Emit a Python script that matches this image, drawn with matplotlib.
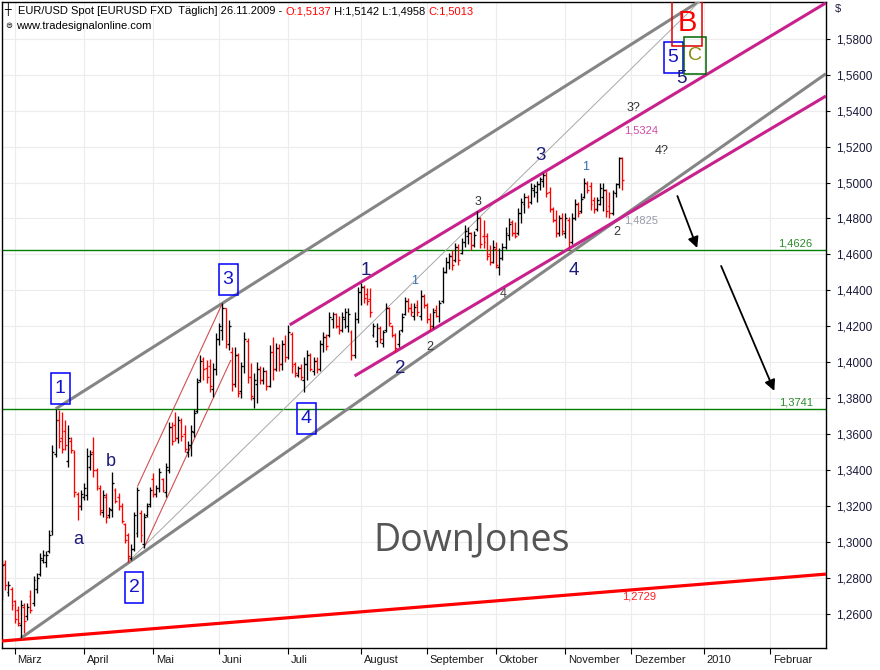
import matplotlib
matplotlib.use("Agg")
import matplotlib.pyplot as plt
import matplotlib.transforms as mtransforms
from matplotlib.patches import Rectangle
import numpy as np
import pandas as pd

plt.rcParams['font.family'] = ['Liberation Sans', 'DejaVu Sans']

# ---------------- data ----------------
start_date = '2009-02-24'
end_date = '2009-11-26'
axis_end_date = '2010-02-26'

opens = [
    1.2700, 1.2880, 1.2720, 1.2740, 1.2670, 1.2620, 1.2540, 1.2640, 1.2590, 1.2700,
    1.2660, 1.2740, 1.2820, 1.2900, 1.2890, 1.2950, 1.3060, 1.3490, 1.3680, 1.3580,
    1.3620, 1.3450, 1.3560, 1.3500, 1.3270, 1.3200, 1.3250, 1.3260, 1.3420, 1.3500,
    1.3400, 1.3300, 1.3170, 1.3250, 1.3150, 1.3180, 1.3290, 1.3250, 1.3200, 1.3100,
    1.3040, 1.2910, 1.2960, 1.3050, 1.3160, 1.2990, 1.3150, 1.3210, 1.3350, 1.3270,
    1.3300, 1.3350, 1.3280, 1.3400, 1.3640, 1.3650, 1.3580, 1.3670, 1.3600, 1.3500,
    1.3540, 1.3610, 1.3730, 1.3900, 1.4020, 1.3970, 1.3980, 1.3850, 1.3960, 1.4130,
    1.4180, 1.4300, 1.4100, 1.4060, 1.3880, 1.4040, 1.3840, 1.3980, 1.4120, 1.3920,
    1.3800, 1.3880, 1.3960, 1.3900, 1.3950, 1.3870, 1.4060, 1.3960, 1.4080, 1.3990,
    1.4100, 1.4030, 1.4160, 1.3990, 1.3930, 1.3970, 1.3900, 1.3990, 1.4040, 1.3950,
    1.4010, 1.3960, 1.4100, 1.4140, 1.4150, 1.4240, 1.4270, 1.4200, 1.4180, 1.4240,
    1.4200, 1.4170, 1.4040, 1.4240, 1.4390, 1.4420, 1.4380, 1.4350, 1.4150, 1.4120,
    1.4190, 1.4110, 1.4180, 1.4300, 1.4200, 1.4150, 1.4100, 1.4180, 1.4270, 1.4340,
    1.4300, 1.4260, 1.4320, 1.4260, 1.4370, 1.4320, 1.4240, 1.4200, 1.4290, 1.4260,
    1.4340, 1.4500, 1.4560, 1.4590, 1.4570, 1.4640, 1.4610, 1.4670, 1.4700, 1.4720,
    1.4650, 1.4740, 1.4800, 1.4700, 1.4700, 1.4600, 1.4560, 1.4630, 1.4530, 1.4580,
    1.4640, 1.4710, 1.4780, 1.4720, 1.4720, 1.4830, 1.4880, 1.4920, 1.4890, 1.4960,
    1.4950, 1.4990, 1.5010, 1.5040, 1.4950, 1.4850, 1.4790, 1.4720, 1.4800, 1.4720,
    1.4790, 1.4670, 1.4800, 1.4880, 1.4840, 1.4920, 1.4990, 1.4980, 1.4900, 1.4850,
    1.4880, 1.4920, 1.4960, 1.4870, 1.4830, 1.4940, 1.4990, 1.5137,
]
highs = [
    1.2901, 1.2901, 1.2781, 1.2753, 1.2679, 1.2642, 1.2679, 1.2660, 1.2660, 1.2734,
    1.2809, 1.2827, 1.2938, 1.2957, 1.2948, 1.3068, 1.3540, 1.3741, 1.3735, 1.3726,
    1.3679, 1.3652, 1.3587, 1.3510, 1.3280, 1.3290, 1.3327, 1.3522, 1.3513, 1.3587,
    1.3411, 1.3318, 1.3290, 1.3272, 1.3198, 1.3392, 1.3300, 1.3272, 1.3216, 1.3105,
    1.3049, 1.2990, 1.3170, 1.3309, 1.3179, 1.3161, 1.3216, 1.3309, 1.3383, 1.3318,
    1.3411, 1.3355, 1.3439, 1.3670, 1.3670, 1.3725, 1.3700, 1.3690, 1.3650, 1.3560,
    1.3650, 1.3740, 1.3910, 1.4040, 1.4030, 1.4013, 1.4020, 1.3994, 1.4162, 1.4218,
    1.4328, 1.4301, 1.4235, 1.4085, 1.4085, 1.4050, 1.4000, 1.4168, 1.4135, 1.3996,
    1.3940, 1.4000, 1.3980, 1.3976, 1.3957, 1.4096, 1.4140, 1.4110, 1.4100, 1.4124,
    1.4150, 1.4207, 1.4168, 1.4000, 1.3980, 1.3990, 1.4030, 1.4068, 1.4050, 1.4030,
    1.4030, 1.4124, 1.4168, 1.4160, 1.4280, 1.4280, 1.4275, 1.4260, 1.4280, 1.4300,
    1.4300, 1.4180, 1.4280, 1.4420, 1.4442, 1.4430, 1.4415, 1.4415, 1.4218, 1.4218,
    1.4200, 1.4180, 1.4330, 1.4310, 1.4210, 1.4163, 1.4180, 1.4273, 1.4365, 1.4360,
    1.4330, 1.4330, 1.4345, 1.4400, 1.4380, 1.4330, 1.4273, 1.4300, 1.4320, 1.4345,
    1.4530, 1.4586, 1.4610, 1.4625, 1.4663, 1.4660, 1.4690, 1.4763, 1.4750, 1.4725,
    1.4730, 1.4843, 1.4808, 1.4791, 1.4720, 1.4652, 1.4680, 1.4669, 1.4636, 1.4663,
    1.4752, 1.4802, 1.4790, 1.4780, 1.4858, 1.4913, 1.4940, 1.4930, 1.4997, 1.4990,
    1.5010, 1.5030, 1.5052, 1.5060, 1.4975, 1.4864, 1.4847, 1.4820, 1.4830, 1.4830,
    1.4808, 1.4830, 1.4910, 1.4890, 1.4940, 1.5025, 1.5010, 1.5003, 1.4920, 1.4920,
    1.4997, 1.4997, 1.4965, 1.4950, 1.4960, 1.5000, 1.5144, 1.5142,
]
lows = [
    1.2679, 1.2734, 1.2700, 1.2623, 1.2549, 1.2531, 1.2466, 1.2494, 1.2568, 1.2605,
    1.2642, 1.2716, 1.2809, 1.2883, 1.2864, 1.2938, 1.3040, 1.3476, 1.3522, 1.3494,
    1.3513, 1.3420, 1.3494, 1.3250, 1.3124, 1.3179, 1.3235, 1.3235, 1.3401, 1.3364,
    1.3290, 1.3151, 1.3142, 1.3105, 1.3133, 1.3142, 1.3216, 1.3179, 1.3105, 1.2994,
    1.2890, 1.2900, 1.2950, 1.3030, 1.3003, 1.2966, 1.3142, 1.3198, 1.3253, 1.3253,
    1.3281, 1.3281, 1.3253, 1.3383, 1.3540, 1.3560, 1.3550, 1.3560, 1.3500, 1.3475,
    1.3480, 1.3586, 1.3720, 1.3890, 1.3900, 1.3885, 1.3837, 1.3805, 1.3930, 1.4097,
    1.4124, 1.4080, 1.4068, 1.3840, 1.3862, 1.3806, 1.3800, 1.3940, 1.3885, 1.3790,
    1.3745, 1.3775, 1.3880, 1.3880, 1.3846, 1.3860, 1.3900, 1.3950, 1.3950, 1.3957,
    1.4000, 1.4020, 1.3940, 1.3920, 1.3920, 1.3900, 1.3835, 1.3900, 1.3950, 1.3930,
    1.3940, 1.3950, 1.4057, 1.4070, 1.4140, 1.4190, 1.4190, 1.4160, 1.4170, 1.4190,
    1.4170, 1.4013, 1.4025, 1.4220, 1.4320, 1.4330, 1.4320, 1.4253, 1.4140, 1.4085,
    1.4110, 1.4085, 1.4170, 1.4200, 1.4140, 1.4057, 1.4085, 1.4170, 1.4265, 1.4280,
    1.4260, 1.4235, 1.4260, 1.4235, 1.4300, 1.4220, 1.4180, 1.4190, 1.4250, 1.4225,
    1.4330, 1.4497, 1.4517, 1.4514, 1.4560, 1.4540, 1.4600, 1.4640, 1.4660, 1.4625,
    1.4640, 1.4730, 1.4635, 1.4636, 1.4569, 1.4540, 1.4550, 1.4524, 1.4486, 1.4570,
    1.4630, 1.4680, 1.4700, 1.4690, 1.4710, 1.4775, 1.4830, 1.4860, 1.4880, 1.4920,
    1.4890, 1.4958, 1.4975, 1.4919, 1.4836, 1.4780, 1.4697, 1.4700, 1.4710, 1.4690,
    1.4641, 1.4660, 1.4790, 1.4810, 1.4830, 1.4915, 1.4940, 1.4847, 1.4830, 1.4840,
    1.4875, 1.4840, 1.4810, 1.4800, 1.4820, 1.4920, 1.4970, 1.4958,
]
closes = [
    1.2870, 1.2760, 1.2760, 1.2650, 1.2570, 1.2550, 1.2650, 1.2560, 1.2640, 1.2620,
    1.2790, 1.2800, 1.2910, 1.2930, 1.2930, 1.3040, 1.3500, 1.3680, 1.3560, 1.3520,
    1.3540, 1.3580, 1.3510, 1.3280, 1.3200, 1.3270, 1.3300, 1.3480, 1.3490, 1.3400,
    1.3310, 1.3180, 1.3260, 1.3140, 1.3185, 1.3330, 1.3230, 1.3200, 1.3120, 1.3010,
    1.2920, 1.2960, 1.3150, 1.3290, 1.3040, 1.3140, 1.3200, 1.3290, 1.3270, 1.3300,
    1.3390, 1.3290, 1.3420, 1.3640, 1.3560, 1.3580, 1.3680, 1.3590, 1.3520, 1.3540,
    1.3620, 1.3720, 1.3890, 1.4010, 1.3960, 1.3920, 1.3870, 1.3960, 1.4130, 1.4200,
    1.4300, 1.4120, 1.4200, 1.3880, 1.4040, 1.3830, 1.3980, 1.4130, 1.3920, 1.3810,
    1.3900, 1.3960, 1.3900, 1.3950, 1.3870, 1.4060, 1.3960, 1.4080, 1.3990, 1.4100,
    1.4030, 1.4170, 1.3980, 1.3940, 1.3970, 1.3920, 1.3990, 1.4040, 1.3960, 1.4010,
    1.3960, 1.4100, 1.4140, 1.4090, 1.4250, 1.4270, 1.4200, 1.4180, 1.4250, 1.4280,
    1.4270, 1.4040, 1.4240, 1.4390, 1.4420, 1.4360, 1.4340, 1.4280, 1.4200, 1.4190,
    1.4130, 1.4170, 1.4300, 1.4220, 1.4150, 1.4080, 1.4160, 1.4250, 1.4340, 1.4300,
    1.4280, 1.4310, 1.4280, 1.4370, 1.4320, 1.4240, 1.4200, 1.4280, 1.4260, 1.4330,
    1.4500, 1.4560, 1.4590, 1.4540, 1.4640, 1.4570, 1.4670, 1.4730, 1.4720, 1.4650,
    1.4710, 1.4800, 1.4660, 1.4670, 1.4590, 1.4560, 1.4640, 1.4540, 1.4580, 1.4640,
    1.4720, 1.4770, 1.4720, 1.4700, 1.4830, 1.4890, 1.4920, 1.4870, 1.4970, 1.4980,
    1.4990, 1.5020, 1.5040, 1.4940, 1.4850, 1.4790, 1.4720, 1.4800, 1.4730, 1.4800,
    1.4670, 1.4800, 1.4880, 1.4830, 1.4910, 1.5000, 1.4960, 1.4880, 1.4850, 1.4900,
    1.4970, 1.4960, 1.4840, 1.4830, 1.4950, 1.4990, 1.5137, 1.5013,
]

price_ticks = [1.26, 1.28, 1.30, 1.32, 1.34, 1.36, 1.38, 1.40, 1.42, 1.44,
               1.46, 1.48, 1.50, 1.52, 1.54, 1.56, 1.58]
price_tick_labels = ['1,2600', '1,2800', '1,3000', '1,3200', '1,3400', '1,3600',
                     '1,3800', '1,4000', '1,4200', '1,4400', '1,4600', '1,4800',
                     '1,5000', '1,5200', '1,5400', '1,5600', '1,5800']
month_labels = ['März', 'April', 'Mai', 'Juni', 'Juli', 'August', 'September',
                'Oktober', 'November', 'Dezember', '2010', 'Februar']

level_values = [1.4626, 1.3741]
level_labels = ['1,4626', '1,3741']

# trend lines: (bar index, price) anchor pairs
grey_upper = [(17, 1.3741), (224.0, 1.6035)]
grey_lower = [(6, 1.2466), (261.8, 1.5605)]
grey_thin = [(40, 1.2890), (222.0, 1.6012)]
red_thin_upper = [(43, 1.3309), (70, 1.4328)]
red_thin_lower = [(45, 1.2966), (72.7, 1.4013)]
magenta_upper = [(91.4, 1.4208), (261.8, 1.5999)]
magenta_lower = [(112.0, 1.3924), (261.8, 1.5481)]
red_support = [(-0.1, 1.2450), (261.8, 1.2822)]

# ---------------- figure ----------------
fig = plt.figure(figsize=(8.8, 6.7), dpi=100)
fig.patch.set_facecolor('white')
ax = fig.add_axes([2 / 880, 22 / 670, 824 / 880, 646 / 670])
XMIN, XMAX = -0.036, 261.83
YMIN, YMAX = 1.2411, 1.6004
ax.set_xlim(XMIN, XMAX)
ax.set_ylim(YMIN, YMAX)
PXI = 824 / (XMAX - XMIN)
PXP = 646 / (YMAX - YMIN)

days = pd.bdate_range(start_date, end_date)
x = np.arange(len(days))
o = np.array(opens); h = np.array(highs); l = np.array(lows); c = np.array(closes)

cal = pd.bdate_range(start_date, axis_end_date)
month_pos = [i for i in range(1, len(cal)) if cal[i].month != cal[i - 1].month]

# grid
for p in price_ticks:
    ax.axhline(p, color='#ececec', lw=0.8, zorder=0)
for m in month_pos:
    ax.axvline(m, color='#ececec', lw=0.8, zorder=0)

# horizontal levels
for v, lab in zip(level_values, level_labels):
    ax.axhline(v, color='#008000', lw=1.0, zorder=2)
    ax.text(257.6, v + 0.0007, lab, color='#2a8a2a', fontsize=8, ha='right',
            va='bottom', zorder=6)

def tline(pts, **kw):
    (x0, y0), (x1, y1) = pts
    ax.plot([x0, x1], [y0, y1], solid_capstyle='butt', **kw)

tline(red_support, color='#ff0000', lw=2.3, zorder=3)
tline(grey_upper, color='#858585', lw=2.2, zorder=3)
tline(grey_lower, color='#858585', lw=2.2, zorder=3)
tline(grey_thin, color='#a8a8a8', lw=0.7, zorder=3)
tline(red_thin_upper, color='#d05050', lw=0.8, zorder=3)
tline(red_thin_lower, color='#d05050', lw=0.8, zorder=3)
tline(magenta_upper, color='#c8208c', lw=2.2, zorder=3)
tline(magenta_lower, color='#c8208c', lw=2.2, zorder=3)

# OHLC bars
cols = np.where(c >= o, '#000000', '#ff0000')
ax.vlines(x, l, h, colors=cols, lw=0.95, zorder=4)
ax.hlines(o, x - 0.6, x, colors=cols, lw=0.95, zorder=4)
ax.hlines(c, x, x + 0.6, colors=cols, lw=0.95, zorder=4)

# boxes
def box(ix, p, wpx, hpx, ec, txt, tc, fs, weight='normal'):
    ax.add_patch(Rectangle((ix - wpx / 2 / PXI, p - hpx / 2 / PXP), wpx / PXI, hpx / PXP,
                           fill=False, ec=ec, lw=1.1, zorder=5))
    ax.text(ix, p, txt, color=tc, fontsize=fs, ha='center', va='center',
            fontweight=weight, zorder=6)

box(18.40, 1.3852, 19, 31, '#0000ff', '1', '#1414c8', 14)
box(41.91, 1.2745, 18, 31, '#0000ff', '2', '#1414c8', 14)
box(71.79, 1.4463, 19, 31, '#0000ff', '3', '#1414c8', 14)
box(96.58, 1.3685, 19, 31, '#0000ff', '4', '#1414c8', 14)
box(213.21, 1.5693, 19, 31, '#0000ff', '5', '#1414c8', 14)
box(217.66, 1.5887, 30, 45, '#e00000', 'B', '#ff0000', 21)
box(220.2, 1.5704, 22, 37, '#006400', 'C', '#8a8a10', 14)

# wave labels
navy = '#1c1c78'
for t, ix, p in [('1', 115.64, 1.4513), ('2', 126.45, 1.3968),
                 ('3', 171.26, 1.5153), ('4', 181.75, 1.4513), ('5', 215.75, 1.5581)]:
    ax.text(ix, p, t, color=navy, fontsize=13.5, ha='center', va='center', zorder=6)
ax.text(24.12, 1.3012, 'a', color=navy, fontsize=13, ha='center', va='center', zorder=6)
ax.text(34.60, 1.3446, 'b', color=navy, fontsize=13, ha='center', va='center', zorder=6)

for t, ix, p, col in [('1', 131.22, 1.4452, '#2f6fb0'), ('2', 135.98, 1.4085, '#333333'),
                      ('3', 151.24, 1.4892, '#333333'), ('4', 159.19, 1.4380, '#444444'),
                      ('1', 185.56, 1.5086, '#2f6fb0'), ('2', 195.41, 1.4725, '#333333'),
                      ('3?', 200.5, 1.5414, '#333333'), ('4?', 209.71, 1.5175, '#333333')]:
    ax.text(ix, p, t, color=col, fontsize=9, ha='center', va='center', zorder=6)

ax.text(197.64, 1.5287, '1,5324', color='#d04aa8', fontsize=8, ha='left', va='center', zorder=6)
ax.text(197.64, 1.4786, '1,4825', color='#9a9aaa', fontsize=8, ha='left', va='center', zorder=6)
ax.text(197.0, 1.2695, '1,2729', color='#ff2020', fontsize=8, ha='left', va='center', zorder=6)

ax.text(149.3, 1.3012, 'DownJones', color='#555555', fontsize=27, ha='center',
        va='center', family=['Open Sans', 'DejaVu Sans'], zorder=6)

# arrows
arrow_kw = dict(arrowstyle='-|>', color='black', lw=1.3, mutation_scale=16,
                shrinkA=0, shrinkB=0)
ax.annotate('', xy=(220.9, 1.4636), xytext=(214.6, 1.4925), arrowprops=arrow_kw, zorder=6)
ax.annotate('', xy=(245.4, 1.3841), xytext=(228.5, 1.4536), arrowprops=arrow_kw, zorder=6)

# axes styling
for s in ax.spines.values():
    s.set_color('black'); s.set_linewidth(1.0)
ax.yaxis.tick_right()
ax.set_yticks(price_ticks)
ax.set_yticklabels(price_tick_labels)
ax.tick_params(axis='y', direction='out', length=3, width=0.8, labelsize=8.5,
               labelcolor='#1a1a3a', pad=4)
ax.set_xticks(month_pos)
ax.set_xticklabels(month_labels)
ax.tick_params(axis='x', direction='out', length=4, width=0.8, labelsize=8,
               labelcolor='#1a1a1a', pad=1)
offset = mtransforms.ScaledTranslation(2 / 72, 0, fig.dpi_scale_trans)
for lab in ax.get_xticklabels():
    lab.set_horizontalalignment('left')
    lab.set_transform(lab.get_transform() + offset)

fig.text(835 / 880, 1 - 9 / 670, '$', color='#1a1a3a', fontsize=8, ha='left', va='center')

# header
parts = [('EUR/USD Spot [EURUSD FXD  Täglich] 26.11.2009 - ', 'black'),
         ('O:1,5137', '#ff0000'), (' H:1,5142 L:1,4958 ', 'black'), ('C:1,5013', '#ff0000')]
t = ax.text(16 / 824, 1 - 14.5 / 646, parts[0][0], color=parts[0][1], fontsize=8,
            transform=ax.transAxes, ha='left', va='bottom', zorder=7)
for s, col in parts[1:]:
    t = ax.annotate(s, xy=(1, 0), xycoords=t, xytext=(0, 0), textcoords='offset points',
                    color=col, fontsize=8, ha='left', va='bottom', zorder=7)
ax.text(2 / 824, 1 - 14.5 / 646, '┼', color='black', fontsize=8, transform=ax.transAxes,
        ha='left', va='bottom', family=['DejaVu Sans'], zorder=7)
ax.text(3 / 824, 1 - 28.5 / 646, '⊜', color='black', fontsize=6, transform=ax.transAxes,
        ha='left', va='bottom', family=['DejaVu Sans'], zorder=7)
ax.text(14 / 824, 1 - 29 / 646, 'www.tradesignalonline.com', color='black', fontsize=8,
        transform=ax.transAxes, ha='left', va='bottom', zorder=7)

fig.savefig('out.png', dpi=100, facecolor='white')
